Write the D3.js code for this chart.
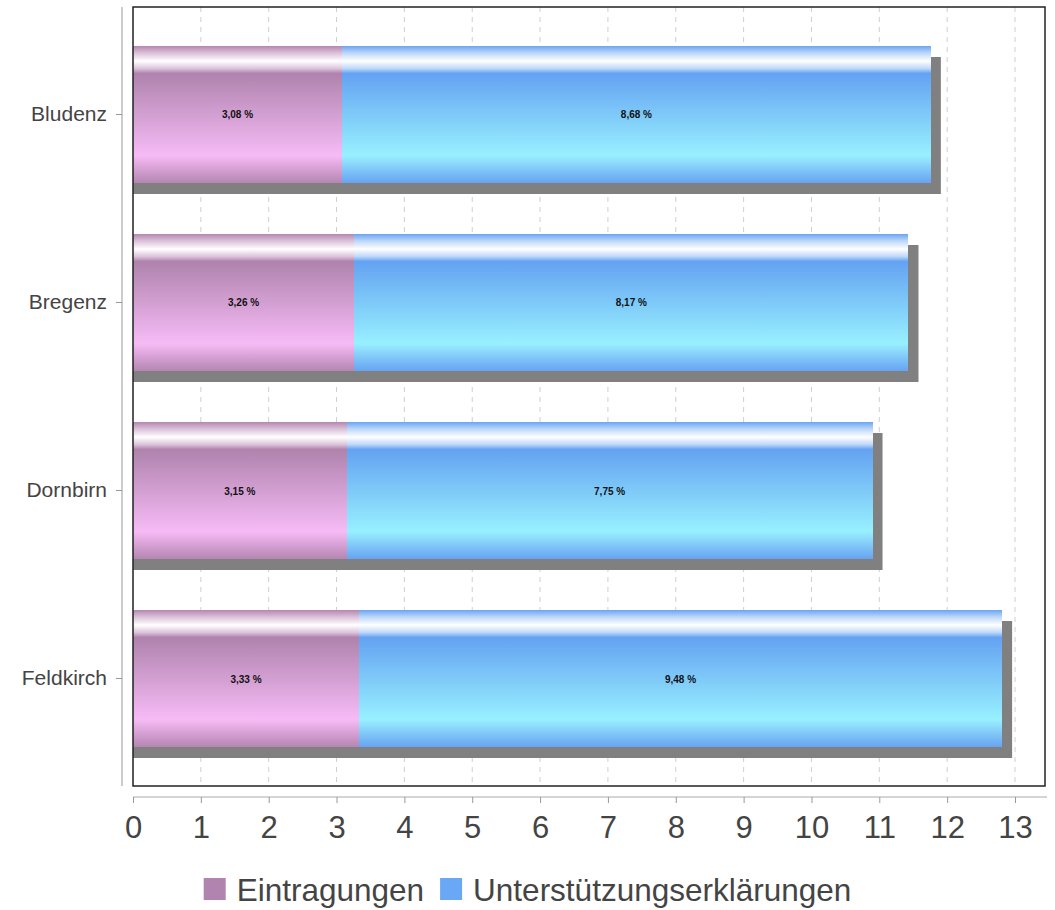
<!DOCTYPE html>
<html>
<head>
<meta charset="utf-8">
<script src="https://cdn.jsdelivr.net/npm/d3@7"></script>
<style>
  html, body { margin: 0; padding: 0; background: #fff; }
  svg { display: block; font-family: "Liberation Sans", Arial, sans-serif; }
</style>
</head>
<body>
<svg id="chart" width="1055" height="910"></svg>
<script>
const categories = ["Bludenz", "Bregenz", "Dornbirn", "Feldkirch"];
const seriesNames = ["Eintragungen", "Unterstützungserklärungen"];
const eintragungen = [3.08, 3.26, 3.15, 3.33];
const unterstuetzung = [8.68, 8.17, 7.75, 9.48];
const xTicks = [0, 1, 2, 3, 4, 5, 6, 7, 8, 9, 10, 11, 12, 13];

const svg = d3.select("#chart");
const W = 1055, H = 910;
const plot = { left: 133, right: 1045, top: 7, bottom: 786 };

const x = d3.scaleLinear().domain([0, 13]).range([133, 1015]);
const y = d3.scaleBand().domain(categories).range([plot.top, plot.bottom])
  .paddingInner(0.2713).paddingOuter(0.2074);

const defs = svg.append("defs");
function grad(id, stops) {
  const g = defs.append("linearGradient").attr("id", id)
    .attr("x1", 0).attr("y1", 0).attr("x2", 0).attr("y2", 1);
  stops.forEach(([o, c]) => g.append("stop").attr("offset", o).attr("stop-color", c));
}
grad("gPurple", [[0, "#b586b1"], [0.05, "#d9c0d7"], [0.11, "#ffffff"], [0.165, "#dcc3da"], [0.2, "#af83ad"],
  [0.8, "#f6bbf6"], [0.88, "#dca5da"], [1, "#b486b1"]]);
grad("gBlue", [[0, "#69a5f3"], [0.05, "#bcd6f8"], [0.11, "#ffffff"], [0.165, "#bdd7f9"], [0.2, "#64a2f2"],
  [0.8, "#98f0ff"], [0.88, "#86cff9"], [1, "#67a3f2"]]);

// plot box background
svg.append("rect").attr("x", plot.left).attr("y", plot.top)
  .attr("width", plot.right - plot.left).attr("height", plot.bottom - plot.top)
  .attr("fill", "#fff");

// gridlines
svg.append("g").selectAll("line").data(xTicks.filter(d => d > 0)).join("line")
  .attr("x1", d => x(d)).attr("x2", d => x(d))
  .attr("y1", plot.top).attr("y2", plot.bottom)
  .attr("stroke", "#cfcfcf").attr("stroke-width", 1).attr("stroke-dasharray", "5,5");

const rows = categories.map((c, i) => ({ cat: c, a: eintragungen[i], b: unterstuetzung[i] }));

// shadows
svg.append("g").selectAll("rect").data(rows).join("rect")
  .attr("x", x(0))
  .attr("y", d => y(d.cat) + 11)
  .attr("width", d => x(d.a + d.b) - x(0) + 10)
  .attr("height", y.bandwidth())
  .attr("fill", "#808080");

// bars
const bars = svg.append("g").attr("shape-rendering", "crispEdges");
bars.selectAll("rect.a").data(rows).join("rect").attr("class", "a")
  .attr("x", x(0)).attr("y", d => y(d.cat))
  .attr("width", d => x(d.a) - x(0)).attr("height", y.bandwidth())
  .attr("fill", "url(#gPurple)");
bars.selectAll("rect.b").data(rows).join("rect").attr("class", "b")
  .attr("x", d => x(d.a)).attr("y", d => y(d.cat))
  .attr("width", d => x(d.a + d.b) - x(d.a)).attr("height", y.bandwidth())
  .attr("fill", "url(#gBlue)");

const fmt = v => v.toFixed(2).replace(".", ",") + " %";
const lbl = svg.append("g").attr("font-size", 10).attr("font-weight", "bold").attr("fill", "#111")
  .attr("text-anchor", "middle");
lbl.selectAll("text.a").data(rows).join("text").attr("class", "a")
  .attr("x", d => (x(0) + x(d.a)) / 2).attr("y", d => y(d.cat) + y.bandwidth() / 2 + 4)
  .text(d => fmt(d.a));
lbl.selectAll("text.b").data(rows).join("text").attr("class", "b")
  .attr("x", d => (x(d.a) + x(d.a + d.b)) / 2).attr("y", d => y(d.cat) + y.bandwidth() / 2 + 4)
  .text(d => fmt(d.b));

// plot border
svg.append("rect").attr("x", plot.left).attr("y", plot.top)
  .attr("width", plot.right - plot.left).attr("height", plot.bottom - plot.top)
  .attr("fill", "none").attr("stroke", "#222").attr("stroke-width", 1.5);

// y axis (separate, to the left)
const yAxis = d3.axisLeft(y).tickSize(6).tickPadding(9);
const gy = svg.append("g").attr("transform", "translate(122,0)").call(yAxis);
gy.select(".domain").attr("d", `M0,${plot.top}V${plot.bottom}`).attr("stroke", "#999");
gy.selectAll(".tick line").attr("stroke", "#999");
gy.selectAll(".tick text").attr("font-size", 21).attr("fill", "#444")
  .attr("font-family", "'Liberation Sans', Arial, sans-serif");

// x axis (separate, below)
const xAxis = d3.axisBottom(x).tickValues(xTicks).tickSize(6).tickPadding(13).tickFormat(d3.format("d"));
const gx = svg.append("g").attr("transform", "translate(0,797)").call(xAxis);
gx.select(".domain").attr("d", `M${plot.left},0H${plot.right + 2}`).attr("stroke", "#aaa");
gx.selectAll(".tick line").attr("stroke", "#999");
gx.selectAll(".tick text").attr("font-size", 31).attr("fill", "#444")
  .attr("font-family", "'Liberation Sans', Arial, sans-serif");

// legend
const legendColors = ["#b084ae", "#6aa7f5"];
const leg = svg.append("g");
const items = leg.selectAll("g").data(seriesNames).join("g");
items.append("rect").attr("width", 22).attr("height", 22).attr("y", -22)
  .attr("fill", (d, i) => legendColors[i]);
items.append("text").attr("x", 33).attr("y", 1).attr("font-size", 31.5).attr("fill", "#444").text(d => d);
const widths = [];
items.each(function () { widths.push(this.getBBox().width); });
const gap = 16;
const total = d3.sum(widths) + gap * (widths.length - 1);
const start = (W - total) / 2;
items.attr("transform", (d, i) => {
  const tx = start + d3.sum(widths.slice(0, i)) + gap * i;
  return `translate(${tx},900)`;
});
</script>
</body>
</html>
